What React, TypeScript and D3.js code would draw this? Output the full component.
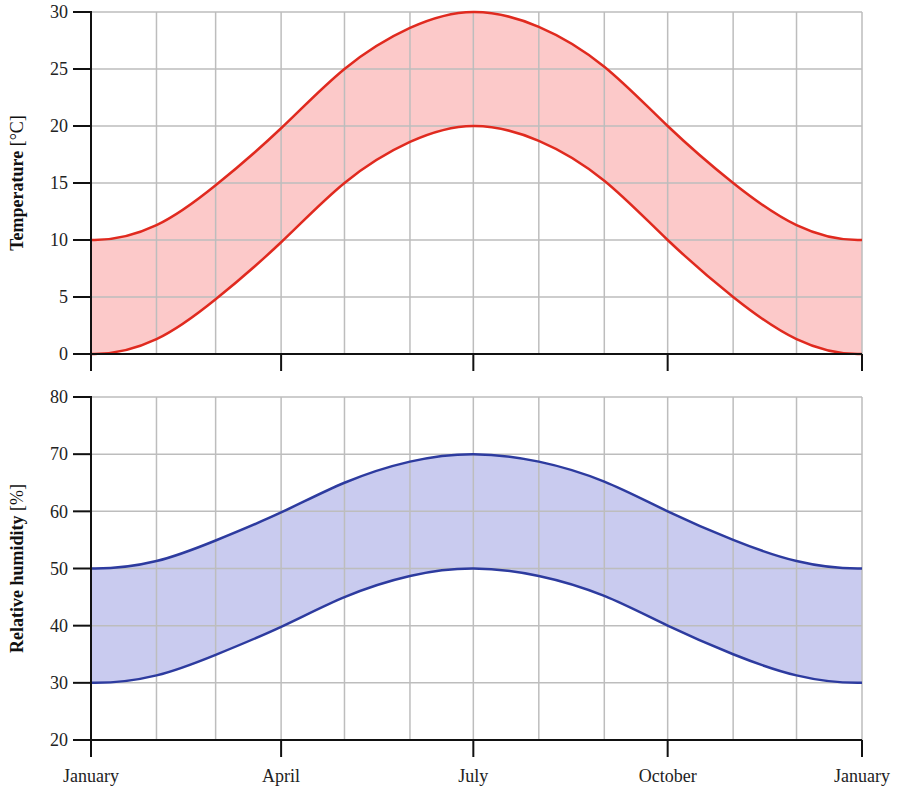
import React from "react";
import * as d3 from "d3";

// month starts, with one month of padding on each side (periodic readings), clipped to the year
const monthStarts = [
  "2022-12-01",
  "2023-01-01","2023-02-01","2023-03-01","2023-04-01","2023-05-01","2023-06-01",
  "2023-07-01","2023-08-01","2023-09-01","2023-10-01","2023-11-01","2023-12-01","2024-01-01",
  "2024-02-01",
];
const tempHigh = [11.3, 10, 11.3, 14.8, 19.8, 25.0, 28.6, 30, 28.7, 25.2, 20.0, 15.0, 11.3, 10, 11.3];
const tempLow = [1.3, 0, 1.3, 4.8, 9.8, 15.0, 18.6, 20, 18.7, 15.2, 10.0, 5.0, 1.3, 0, 1.3];
const humHigh = [51.3, 50, 51.3, 54.9, 59.8, 65.0, 68.7, 70, 68.7, 65.2, 60.0, 55.0, 51.3, 50, 51.3];
const humLow = [31.3, 30, 31.3, 34.9, 39.8, 45.0, 48.7, 50, 48.7, 45.2, 40.0, 35.0, 31.3, 30, 31.3];
const tempTicks = [0, 5, 10, 15, 20, 25, 30];
const humTicks = [20, 30, 40, 50, 60, 70, 80];
const gridMonths = monthStarts.slice(1, 14);
const axisMonths = ["2023-01-01", "2023-04-01", "2023-07-01", "2023-10-01", "2024-01-01"];
const axisLabels = ["January", "April", "July", "October", "January"];

const X0 = 91, X1 = 862;
const font = "Liberation Serif";

const parse = (s: string) => new Date(s + "T00:00:00Z");

function Panel({ id, top, bottom, domain, ticks, hi, lo, line, fill, label, unit, showLabels }: any) {
  const x = d3.scaleUtc().domain([parse("2023-01-01"), parse("2024-01-01")]).range([X0, X1]);
  const y = d3.scaleLinear().domain(domain).range([bottom, top]);
  const dates = monthStarts.map(parse);
  const idx = hi.map((_: number, i: number) => i);
  const area = d3.area<number>()
    .x((i) => x(dates[i]))
    .y0((i) => y(lo[i]))
    .y1((i) => y(hi[i]))
    .curve(d3.curveNatural);
  const ln = (vals: number[]) =>
    d3.line<number>().x((i) => x(dates[i])).y((i) => y(vals[i])).curve(d3.curveNatural)(idx) || "";
  return (
    <g>
      <defs>
        <clipPath id={id}>
          <rect x={X0} y={top - 5} width={X1 - X0} height={bottom - top + 10} />
        </clipPath>
      </defs>
      <g clipPath={`url(#${id})`}>
        <path d={area(idx) || ""} fill={fill} stroke="none" />
      </g>
      {gridMonths.map((m, i) => (
        <line key={"v" + i} x1={x(parse(m))} x2={x(parse(m))} y1={top} y2={bottom} stroke="#bdbdbd" strokeWidth={1.5} />
      ))}
      {ticks.map((t: number) => (
        <line key={"h" + t} x1={X0} x2={X1} y1={y(t)} y2={y(t)} stroke="#bdbdbd" strokeWidth={1.5} />
      ))}
      <g clipPath={`url(#${id})`}>
        <path d={ln(hi)} fill="none" stroke={line} strokeWidth={2.5} />
        <path d={ln(lo)} fill="none" stroke={line} strokeWidth={2.5} />
      </g>
      <line x1={X0} x2={X0} y1={top - 1} y2={bottom + 17} stroke="#111" strokeWidth={2} />
      <line x1={X0} x2={X1} y1={bottom} y2={bottom} stroke="#111" strokeWidth={2} />
      {ticks.map((t: number) => (
        <g key={"yt" + t}>
          <line x1={X0 - 18} x2={X0} y1={y(t)} y2={y(t)} stroke="#111" strokeWidth={2} />
          <text x={X0 - 23} y={y(t)} dy="0.35em" textAnchor="end" fontSize={18} fontFamily={font} fill="#222">{t}</text>
        </g>
      ))}
      {axisMonths.map((m, i) => (
        <g key={"xt" + i}>
          <line x1={x(parse(m))} x2={x(parse(m))} y1={bottom} y2={bottom + 17} stroke="#111" strokeWidth={2} />
          {showLabels && (
            <text x={x(parse(m))} y={bottom + 42} textAnchor="middle" fontSize={18} fontFamily={font} fill="#222">{axisLabels[i]}</text>
          )}
        </g>
      ))}
      <text
        transform={`translate(23,${(top + bottom) / 2}) rotate(-90)`}
        textAnchor="middle"
        fontSize={18}
        fontFamily={font}
        fill="#111"
      >
        <tspan fontWeight="bold">{label}</tspan>
        <tspan> {unit}</tspan>
      </text>
    </g>
  );
}

export default function App() {
  return (
    <svg width={900} height={793} style={{ display: "block", position: "absolute", left: 0, top: 0 }}>
      <rect width={900} height={793} fill="#fff" />
      <Panel id="c1" top={12} bottom={354} domain={[0, 30]} ticks={tempTicks} hi={tempHigh} lo={tempLow}
        line="#e02a1f" fill="#fcc9c9" label="Temperature" unit="[°C]" showLabels={false} />
      <Panel id="c2" top={397} bottom={740} domain={[20, 80]} ticks={humTicks} hi={humHigh} lo={humLow}
        line="#2d3b9f" fill="#c9cbef" label="Relative humidity" unit="[%]" showLabels={true} />
    </svg>
  );
}
